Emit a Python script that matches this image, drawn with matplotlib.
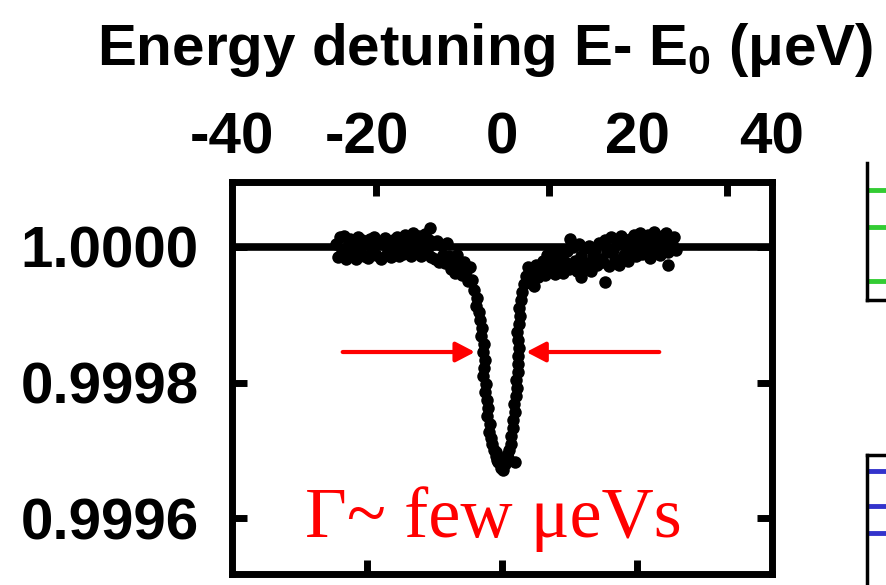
import matplotlib
matplotlib.use("Agg")
import matplotlib.pyplot as plt

# Detuning (ueV) and transmission change from 1 (ppm)
left_x = [-24.6, -24.3, -24.0, -23.7, -23.4, -23.1, -22.8, -22.5, -22.2, -21.9, -21.6, -21.3,
          -21.0, -20.7, -20.4, -20.1, -19.8, -19.5, -19.2, -18.9, -18.6, -18.3, -18.0, -17.7,
          -17.4, -17.1, -16.8, -16.5, -16.2, -15.9, -15.6, -15.3, -15.0, -14.7, -14.4, -14.1,
          -13.8, -13.5, -13.2, -12.9, -12.6, -12.3, -12.0, -11.7, -11.4, -11.1, -10.8, -10.5,
          -10.2, -9.9, -9.6, -9.3, -9.0, -8.7, -8.4, -8.1, -7.8, -7.5, -7.2, -6.9,
          -6.6, -6.3, -6.0, -5.7, -5.4, -5.1, -4.8, -4.5, -10.65]
left_ppm = [5, -15, 14, -8, 16, -18, 2, 12, -12, 8, -17, 15, -5, 10, -14, 6,
            -16, 12, -3, 14, -12, 9, -17, 4, 13, -10, 7, -15, 11, -6, 15, -13,
            8, -11, 18, -4, 12, -14, 20, 2, -9, 16, -13, 6, 19, -7, 10, -15,
            4, -18, 9, -22, 3, -12, -24, 6,
            -14, -32, -20, -38, -12, -28, -42, -22, -35, -50, -30, -48, 28]

dip_x = [-4.15, -3.70, -3.85, -3.41, -3.26, -2.96, -3.11, -2.67, -2.81, -2.52,
         -2.6, -2.75, -2.4, -2.5, -2.25, -2.1, -2.2, -1.85, -1.9, -1.6,
         -1.55, -1.2, -0.95, -0.6, -0.2,
         0.45, 0.9, 1.0, 1.3, 1.35, 1.6, 1.6, 1.9, 1.85, 2.1,
         2.2, 2.1, 2.35, 2.4, 2.35, 2.55, 2.37, 2.22, 2.52, 2.67,
         2.52, 2.81, 2.96, 3.26, 3.56,
         1.93, -0.7, 0.15, -0.9, 0.8]
dip_ppm = [-64, -75, -87, -96, -108, -120, -131, -143, -155, -167,
           -179, -190, -202, -214, -226, -238, -249, -261, -273, -282,
           -291, -300, -308, -317, -326,
           -320, -311, -300, -291, -279, -267, -255, -244, -232, -220,
           -208, -196, -185, -173, -161, -149, -137, -126, -114, -102,
           -90, -78, -66, -55, -43,
           -317, -314, -329, -303, -307]

right_x = [3.9, 4.2, 4.5, 4.8, 5.1, 5.4, 5.7,
           6.0, 6.3, 6.6, 6.9, 7.2, 7.5, 7.8, 8.1, 8.4, 8.7, 9.0, 9.3, 9.6, 9.9,
           10.2, 10.5, 10.8, 11.1, 11.4, 11.7, 12.0, 12.3, 12.6, 12.9, 13.2, 13.5, 13.8, 14.1, 14.4, 14.7,
           15.0, 15.3, 15.6, 15.9, 16.2, 16.5, 16.8, 17.1, 17.4, 17.7, 18.0, 18.3, 18.6, 18.9, 19.2, 19.5,
           19.8, 20.1, 20.4, 20.7, 21.0, 21.3, 21.6, 21.9, 22.2, 22.5, 22.8, 23.1, 23.4, 23.7,
           24.0, 24.3, 24.6, 24.9, 25.2, 25.5, 25.8,
           10.0, 11.7, 15.3, 24.6]
right_ppm = [-30, -52, -38, -58, -26, -45, -34,
             -20, -42, -12, -36, -25, -8, -40, -18, -30, -10, -38, -22, -6, -33,
             -28, 0, -20, -35, 4, -14, -30, -2, -24, 2, -36, -12, -4, -26, 6, -18,
             -22, 10, -8, -28, 14, -4, -18, 8, -26, 16, -12, 2, -20, 12, -6, 18,
             -14, 6, 20, -10, 14, -2, 18, -16, 8, 22, -6, 12, -12, 16,
             2, 20, -8, 10, 4, 14, -4,
             12, -44, -52, -27]

baseline = 1.0
x_labels = [-40, -20, 0, 20, 40]
top_ticks = [-18.7, 7.0, 33.3]
bottom_ticks = [-20, 0, 20]
y_ticks = [1.0000, 0.9998, 0.9996]

arrow_tails = [-23.6, 23.3]
arrow_heads = [-4.0, 3.6]
arrow_y = 0.999845
note = "Γ~ few μeVs"

# partial neighbour panels on the right edge
green_levels = [0.80, 0.533, 0.139]
blue_levels = [0.914, 0.724, 0.578]

plt.rcParams['font.family'] = ['Liberation Sans', 'DejaVu Sans']
plt.rcParams['font.weight'] = 'bold'
plt.rcParams['mathtext.fontset'] = 'custom'
plt.rcParams['mathtext.rm'] = 'Liberation Sans:bold'
plt.rcParams['mathtext.it'] = 'Liberation Sans:bold'
plt.rcParams['mathtext.default'] = 'rm'

W, H = 887, 585
fig = plt.figure(figsize=(W / 100, H / 100), dpi=100)
ax = fig.add_axes([232 / W, 11 / H, 540 / W, 392 / H])

xs = left_x + dip_x + right_x
ys = [1 + v * 1e-6 for v in left_ppm + dip_ppm + right_ppm]
ax.axhline(baseline, color='black', lw=5.5, zorder=1)
ax.plot(xs, ys, 'o', color='black', ms=9, mec='none', zorder=2)

ax.set_xlim(-40, 40)
ax.set_ylim(0.9995174, 1.0000959)
for s in ax.spines.values():
    s.set_linewidth(5)

ax.set_xticks(bottom_ticks)
ax.tick_params(axis='x', direction='in', length=10, width=5, labelbottom=False, top=False)
ax.set_yticks(y_ticks, [f'{v:.4f}' for v in y_ticks])
ax.tick_params(axis='y', direction='in', length=11, width=5, right=True, labelsize=42, pad=24)

top = ax.twiny()
top.set_xlim(ax.get_xlim())
top.set_xticks(x_labels, [str(v) for v in x_labels])
top.set_xticks(top_ticks, minor=True)
top.tick_params(axis='x', which='major', length=0, labelsize=42, pad=12)
top.tick_params(axis='x', which='minor', direction='in', length=10, width=5)
for s in top.spines.values():
    s.set_visible(False)

for tail, head in zip(arrow_tails, arrow_heads):
    ax.annotate('', xy=(head, arrow_y), xytext=(tail, arrow_y),
                arrowprops=dict(arrowstyle='-|>,head_length=1.15,head_width=0.6',
                                mutation_scale=10, lw=3, color='red',
                                shrinkA=0, shrinkB=0))

ax.text(-29.2, 0.999572, note, family='Liberation Serif', fontweight='normal',
        fontsize=52, color='red', va='baseline')

fig.text(485 / W, 1 - 65 / H, 'Energy detuning E- E$_0$ (μeV)',
         ha='center', va='baseline', fontsize=42, fontweight='bold')

g = fig.add_axes([867 / W, 285 / H, 0.2, 137 / H])
b = fig.add_axes([867 / W, -55 / H, 0.2, 185 / H])
for p, levels, col, keep in [(g, green_levels, '#33cc33', ('left', 'bottom')),
                             (b, blue_levels, '#3333cc', ('left', 'top'))]:
    p.set_xlim(0, 1)
    p.set_ylim(0, 1)
    for name, s in p.spines.items():
        s.set_visible(name in keep)
        s.set_linewidth(2.5)
    p.set_xticks([])
    p.set_yticks(levels)
    p.tick_params(axis='y', direction='in', length=20, width=3.5, color=col, labelleft=False)

fig.savefig('out.png', dpi=100)
